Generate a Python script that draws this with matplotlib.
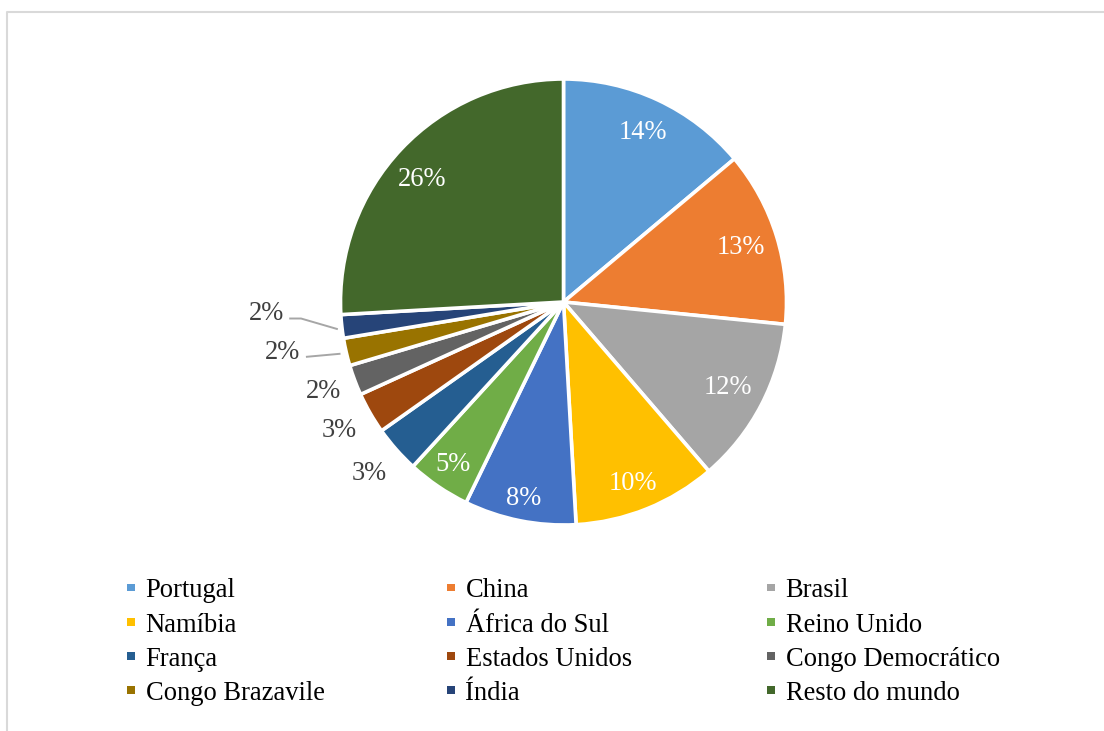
import matplotlib
matplotlib.use("Agg")
import matplotlib.pyplot as plt
import numpy as np
from matplotlib.lines import Line2D
from matplotlib.patches import Rectangle

# Share of exports by destination (%)
paises = ["Portugal", "China", "Brasil", "Namíbia", "África do Sul", "Reino Unido",
          "França", "Estados Unidos", "Congo Democrático", "Congo Brazavile",
          "Índia", "Resto do mundo"]
quotas = [13.9, 12.7, 12.1, 10.4, 8.1, 4.6, 3.4, 3.0, 2.2, 2.0, 1.7, 25.9]
cores = ["#5B9BD5", "#ED7D31", "#A5A5A5", "#FFC000", "#4472C4", "#70AD47",
         "#255E91", "#9E480E", "#636363", "#997300", "#264478", "#43682B"]

plt.rcParams["font.family"] = "serif"
plt.rcParams["font.serif"] = ["Liberation Serif", "DejaVu Serif"]
FS = 19.1

W, H = 1104, 731
fig = plt.figure(figsize=(W / 100, H / 100), dpi=100)

# pie geometry in pixels
R = 223.0
cx, cy = 563.5, 302.0
L = 1.45
side = 2 * L * R
ax = fig.add_axes([(cx - side / 2) / W, (H - cy - side / 2) / H, side / W, side / H])

wedges, _ = ax.pie(quotas, colors=cores, startangle=90, counterclock=False,
                   radius=1.0, wedgeprops=dict(edgecolor="white", linewidth=2.6))
ax.set_xlim(-L, L)
ax.set_ylim(-L, L)
ax.set_aspect("equal")
ax.axis("off")

total = sum(quotas)
rotulos = [f"{round(v / total * 100):.0f}%" for v in quotas]

# label placement: radius (in pie radii) and small angular nudge (degrees)
dentro = {"Portugal": (0.84, 0), "China": (0.83, 0), "Brasil": (0.83, 0),
          "Namíbia": (0.87, -1), "África do Sul": (0.90, 0), "Reino Unido": (0.88, 0),
          "Resto do mundo": (0.84, 2.5)}
fora = {"França": 1.16, "Estados Unidos": 1.16, "Congo Democrático": 1.15}
# labels pulled out with leader lines: (text position, line path)
guias = {
    "Congo Brazavile": ((-1.26, -0.225), [(-1.155, -0.246), (-1.0, -0.232)]),
    "Índia": ((-1.33, -0.05), [(-1.23, -0.074), (-1.177, -0.074), (-1.012, -0.122)]),
}

for w, nome, txt in zip(wedges, paises, rotulos):
    mid = (w.theta1 + w.theta2) / 2
    if nome in guias:
        (tx, ty), path = guias[nome]
        ax.text(tx, ty, txt, ha="center", va="center", fontsize=FS, color="#404040")
        xs, ys = zip(*path)
        ax.plot(xs, ys, color="#A6A6A6", lw=1.4, solid_capstyle="butt")
    elif nome in fora:
        r = fora[nome]
        a = np.deg2rad(mid)
        ax.text(r * np.cos(a), r * np.sin(a), txt, ha="center", va="center",
                fontsize=FS, color="#404040")
    else:
        r, da = dentro[nome]
        a = np.deg2rad(mid + da)
        ax.text(r * np.cos(a), r * np.sin(a), txt, ha="center", va="center",
                fontsize=FS, color="white")

# legend: 3 columns x 4 rows
col_x = [131, 451, 771]
row_base = [597, 631.5, 665.5, 699.5]
msz = 7.5
for i, (nome, cor) in enumerate(zip(paises, cores)):
    r, c = divmod(i, 3)
    mx = col_x[c]
    my = row_base[r] - 9.5
    fig.patches.append(Rectangle(((mx - msz / 2) / W, (H - my - msz / 2) / H),
                                 msz / W, msz / H, transform=fig.transFigure,
                                 facecolor=cor, edgecolor="none"))
    fig.text((mx + 14.5) / W, (H - row_base[r]) / H, nome, ha="left", va="baseline",
             fontsize=FS, color="black")

# chart-area border (top and left edges)
fig.add_artist(Line2D([7 / W, 7 / W, 1.0], [0.0, (H - 12) / H, (H - 12) / H],
                      transform=fig.transFigure, color="#D9D9D9", lw=1.5))

fig.savefig("out.png", dpi=100, facecolor="white")
